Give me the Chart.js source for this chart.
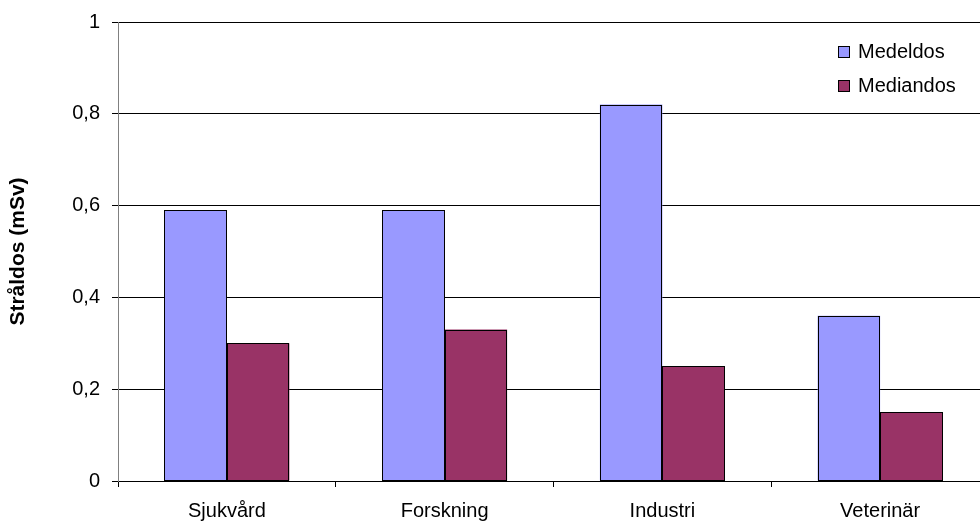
<!DOCTYPE html>
<html>
<head>
<meta charset="utf-8">
<script src="https://cdn.jsdelivr.net/npm/chart.js@4/dist/chart.umd.min.js"></script>
<style>
  html, body { margin: 0; padding: 0; overflow: hidden; background: #fff; }
  #wrap { width: 990px; height: 523px; }
</style>
</head>
<body>
<div id="wrap"><canvas id="myChart"></canvas></div>
<script>
// stråldos per verksamhet
var kategorier = ['Sjukvård', 'Forskning', 'Industri', 'Veterinär'];
var medeldos = [0.59, 0.59, 0.82, 0.36];
var mediandos = [0.30, 0.33, 0.25, 0.15];
var yTicks = [0, 0.2, 0.4, 0.6, 0.8, 1];

Chart.defaults.font.family = '"Liberation Sans", Arial, sans-serif';
Chart.defaults.font.size = 20;
Chart.defaults.color = '#000';

// legend ritas inne i diagrammet, uppe till höger
var innerLegend = {
  id: 'innerLegend',
  afterDraw: function (chart) {
    var c = chart.ctx;
    c.save();
    c.font = '20px "Liberation Sans", Arial, sans-serif';
    c.textBaseline = 'middle';
    chart.data.datasets.forEach(function (ds, i) {
      var y = 52 + i * 34;
      c.fillStyle = ds.backgroundColor;
      c.fillRect(838, y - 6, 12, 12);
      c.strokeStyle = '#000';
      c.lineWidth = 1;
      c.strokeRect(838.5, y - 5.5, 11, 11);
      c.fillStyle = '#000';
      c.fillText(ds.label, 858, y);
    });
    c.restore();
  }
};

// skarpa svarta kanter runt staplarna
var barEdges = {
  id: 'barEdges',
  afterDatasetsDraw: function (chart) {
    var c = chart.ctx;
    c.save();
    c.strokeStyle = '#000';
    c.lineWidth = 1;
    chart.data.datasets.forEach(function (ds, i) {
      chart.getDatasetMeta(i).data.forEach(function (bar) {
        var l = Math.round(bar.x - bar.width / 2) + 0.5;
        var r = Math.round(bar.x + bar.width / 2) - 0.5;
        var t = Math.round(bar.y) + 0.5;
        var b = Math.round(bar.base) - 0.5;
        c.strokeRect(l, t, r - l, b - t);
      });
    });
    c.restore();
  }
};

var ctx = document.getElementById('myChart');

var myChart = new Chart(ctx, {
  type: 'bar',
  data: {
    labels: kategorier,
    datasets: [{
      label: 'Medeldos',
      data: medeldos,
      backgroundColor: '#9999FF',
      borderWidth: 0,
      barPercentage: 1,
      categoryPercentage: 0.574
    }, {
      label: 'Mediandos',
      data: mediandos,
      backgroundColor: '#993366',
      borderWidth: 0,
      barPercentage: 1,
      categoryPercentage: 0.574
    }]
  },
  options: {
    responsive: true,
    maintainAspectRatio: false,
    animation: false,
    layout: { padding: { top: 22, left: 6, right: 1, bottom: 0 } },
    plugins: {
      legend: { display: false },
      tooltip: { enabled: false }
    },
    scales: {
      x: {
        grid: {
          offset: true,
          drawOnChartArea: false,
          drawTicks: true,
          tickLength: 6,
          tickColor: '#000'
        },
        border: { color: '#000' },
        ticks: { padding: 12 },
        afterFit: function (scale) { scale.height = 42; }
      },
      y: {
        min: 0,
        max: 1,
        afterBuildTicks: function (scale) {
          scale.ticks = yTicks.map(function (v) { return { value: v }; });
        },
        grid: {
          color: '#000',
          tickColor: '#000',
          tickLength: 6
        },
        border: { color: '#808080' },
        ticks: {
          padding: 12,
          callback: function (v) {
            return (v === 0 || v === 1) ? String(v) : v.toFixed(1).replace('.', ',');
          }
        },
        title: {
          display: true,
          text: 'Stråldos (mSv)',
          font: { weight: 'bold', size: 21 },
          padding: { top: 0, bottom: 0 }
        },
        afterFit: function (scale) {
          scale.width = 112;
          scale.paddingTop = 0;
          scale.paddingBottom = 0;
        }
      }
    }
  },
  plugins: [innerLegend, barEdges]
});
</script>
</body>
</html>
